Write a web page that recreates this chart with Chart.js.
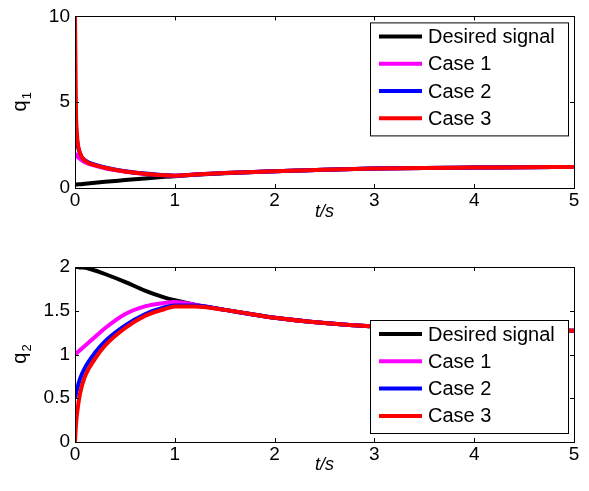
<!DOCTYPE html>
<html>
<head>
<meta charset="utf-8">
<script src="https://cdn.jsdelivr.net/npm/chart.js@4.4.0/dist/chart.umd.min.js"></script>
<style>
  body { margin: 0; background: #fff; width: 589px; height: 491px; overflow: hidden; }
  .box { position: absolute; left: 0; width: 589px; }
</style>
</head>
<body>
<div class="box" style="top:0;height:245px"><canvas id="q1"></canvas></div>
<div class="box" style="top:250px;height:241px"><canvas id="q2"></canvas></div>
<script>
// time samples (s)
const t = [0, 0.01, 0.02, 0.05, 0.1, 0.2, 0.3, 0.5, 0.7, 0.9, 1.0, 1.2, 1.5, 2, 2.5, 3, 3.5, 4, 4.5, 5]

const q1Desired = [0.2, 0.2, 0.21, 0.22, 0.25, 0.3, 0.36, 0.46, 0.56, 0.65, 0.69, 0.77, 0.86, 0.98, 1.07, 1.13, 1.17, 1.19, 1.21, 1.22]
const q1Case1 = [2.0, 1.95, 1.85, 1.7, 1.5, 1.3, 1.15, 0.96, 0.82, 0.74, 0.72, 0.78, 0.87, 0.98, 1.07, 1.13, 1.17, 1.19, 1.21, 1.22]
const q1Case2 = [5.0, 3.6, 2.8, 2.0, 1.62, 1.36, 1.2, 0.98, 0.84, 0.75, 0.72, 0.78, 0.87, 0.98, 1.07, 1.13, 1.17, 1.19, 1.21, 1.22]
const q1Case3 = [10, 4.5, 3.1, 2.05, 1.6, 1.33, 1.18, 0.96, 0.83, 0.74, 0.72, 0.78, 0.87, 0.98, 1.07, 1.13, 1.17, 1.19, 1.21, 1.22]

const q2Desired = [2.0, 2.0, 2.0, 1.995, 1.99, 1.96, 1.92, 1.83, 1.73, 1.65, 1.62, 1.57, 1.51, 1.42, 1.36, 1.32, 1.30, 1.29, 1.28, 1.27]
const q2Case1 = [1.0, 1.01, 1.02, 1.05, 1.1, 1.2, 1.3, 1.46, 1.55, 1.59, 1.6, 1.57, 1.51, 1.42, 1.36, 1.32, 1.30, 1.29, 1.28, 1.27]
const q2Case2 = [0.5, 0.55, 0.6, 0.72, 0.85, 1.02, 1.15, 1.33, 1.46, 1.54, 1.56, 1.56, 1.51, 1.42, 1.36, 1.32, 1.30, 1.29, 1.28, 1.27]
const q2Case3 = [0, 0.2, 0.32, 0.55, 0.75, 0.95, 1.1, 1.3, 1.44, 1.52, 1.55, 1.55, 1.51, 1.42, 1.36, 1.32, 1.30, 1.29, 1.28, 1.27]

const labels = ['Desired signal', 'Case 1', 'Case 2', 'Case 3']
const colors = ['#000000', '#FF00FF', '#0000FF', '#FF0000']

const FONT = 'Arial, "Liberation Sans", sans-serif'

const pts = (ys) => t.map((x, i) => ({ x: x, y: ys[i] }))

// frame + inward ticks, like matlab
const framePlugin = {
    id: 'frame',
    afterDatasetsDraw(chart) {
        const { ctx, chartArea: a, scales } = chart
        ctx.save()
        ctx.strokeStyle = '#000'
        ctx.lineWidth = 1
        ctx.beginPath()
        scales.x.ticks.forEach((tk) => {
            const px = Math.round(scales.x.getPixelForValue(tk.value)) + 0.5
            ctx.moveTo(px, a.bottom); ctx.lineTo(px, a.bottom - 4)
            ctx.moveTo(px, a.top); ctx.lineTo(px, a.top + 4)
        })
        scales.y.ticks.forEach((tk) => {
            const py = Math.round(scales.y.getPixelForValue(tk.value)) + 0.5
            ctx.moveTo(a.left, py); ctx.lineTo(a.left + 4, py)
            ctx.moveTo(a.right, py); ctx.lineTo(a.right - 4, py)
        })
        ctx.stroke()
        ctx.strokeRect(Math.round(a.left) + 0.5, Math.round(a.top) + 0.5, Math.round(a.right - a.left), Math.round(a.bottom - a.top))
        ctx.restore()
    }
}

// y title with a real subscript: q + index
const yTitle = {
    id: 'yTitle',
    afterDraw(chart, args, opts) {
        const { ctx, chartArea: a } = chart
        ctx.save()
        ctx.translate(26, (a.top + a.bottom) / 2)
        ctx.rotate(-Math.PI / 2)
        ctx.fillStyle = '#000'
        ctx.textBaseline = 'alphabetic'
        ctx.font = '20px ' + FONT
        const wq = ctx.measureText('q').width
        ctx.font = '13px ' + FONT
        const ws = ctx.measureText(opts.sub).width
        const x0 = -(wq + ws) / 2
        ctx.font = '20px ' + FONT
        ctx.fillText('q', x0, 0)
        ctx.font = '13px ' + FONT
        ctx.fillText(opts.sub, x0 + wq + 1, 5)
        ctx.restore()
    }
}

// legend box drawn inside the plot
const boxLegend = {
    id: 'boxLegend',
    afterDraw(chart, args, opts) {
        const { ctx, chartArea: a } = chart
        const w = 198, h = 113
        const x0 = a.right - 6 - w
        const y0 = opts.fromBottom ? a.bottom - 9 - h : a.top + 6
        ctx.save()
        ctx.fillStyle = '#fff'
        ctx.fillRect(x0, y0, w, h)
        ctx.strokeStyle = '#000'
        ctx.lineWidth = 1
        ctx.strokeRect(x0 + 0.5, y0 + 0.5, w, h)
        ctx.font = '20px ' + FONT
        ctx.textBaseline = 'middle'
        chart.data.datasets.forEach((ds, i) => {
            const y = y0 + 14 + i * 27.3
            ctx.strokeStyle = ds.borderColor
            ctx.lineWidth = 4
            ctx.beginPath()
            ctx.moveTo(x0 + 9, y); ctx.lineTo(x0 + 52, y)
            ctx.stroke()
            ctx.fillStyle = '#000'
            ctx.fillText(ds.label, x0 + 58, y + 1)
        })
        ctx.restore()
    }
}

function makeChart(id, series, yMax, yStep, sub, padTop, xAxisH, padBottom, fromBottom) {
    return new Chart(document.getElementById(id), {
        type: 'line',
        data: {
            datasets: series.map((s, i) => ({
                label: labels[i],
                data: pts(s),
                borderColor: colors[i],
                backgroundColor: colors[i],
                borderWidth: 4,
                pointRadius: 0,
                cubicInterpolationMode: 'monotone',
                order: 4 - i,
            }))
        },
        options: {
            responsive: true,
            maintainAspectRatio: false,
            animation: false,
            layout: { padding: { top: padTop, right: 15, left: 0, bottom: padBottom } },
            scales: {
                x: {
                    type: 'linear',
                    min: 0, max: 5,
                    ticks: { stepSize: 1, color: '#000', font: { size: 19, family: FONT }, padding: 1 },
                    grid: { display: false, drawTicks: false },
                    border: { display: false },
                    title: { display: true, text: 't/s', color: '#000', font: { size: 18, family: FONT, style: 'italic' }, padding: 0 },
                    afterFit: (s) => { s.height = xAxisH },
                },
                y: {
                    min: 0, max: yMax,
                    ticks: {
                        stepSize: yStep, color: '#000', font: { size: 19, family: FONT }, padding: 5,
                        callback: (v) => String(Math.round(v * 10) / 10),
                    },
                    grid: { display: false, drawTicks: false },
                    border: { display: false },
                    afterFit: (s) => { s.width = 75 },
                },
            },
            plugins: {
                legend: { display: false },
                tooltip: { enabled: false },
                boxLegend: { fromBottom: fromBottom },
                yTitle: { sub: sub },
            },
        },
        plugins: [framePlugin, boxLegend, yTitle],
    })
}

makeChart('q1', [q1Desired, q1Case1, q1Case2, q1Case3], 10, 5, '1', 15, 35, 22, false)
makeChart('q2', [q2Desired, q2Case1, q2Case2, q2Case3], 2, 0.5, '2', 17, 34, 15, true)
</script>
</body>
</html>
